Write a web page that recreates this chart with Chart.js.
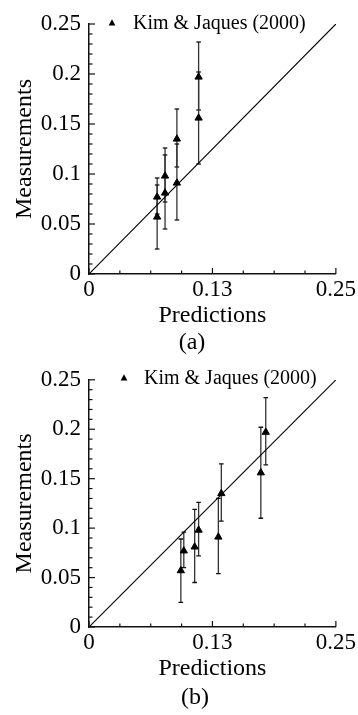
<!DOCTYPE html>
<html>
<head>
<meta charset="utf-8">
<script src="https://cdn.jsdelivr.net/npm/chart.js@4.4.0/dist/chart.umd.min.js"></script>
<style>
  html, body { margin: 0; padding: 0; background: #fff; }
  canvas { display: block; }
</style>
</head>
<body>
<canvas id="chartA" width="358" height="358"></canvas>
<canvas id="chartB" width="358" height="357"></canvas>
<script>
// Kim & Jaques (2000): measured values with error bars, against two sets of predictions
const seriesLabel = 'Kim & Jaques (2000)';
const measurements = [0.057, 0.077, 0.081, 0.098, 0.091, 0.135, 0.156, 0.197];
const errorLow     = [0.025, 0.060, 0.045, 0.072, 0.054, 0.107, 0.110, 0.164];
const errorHigh    = [0.089, 0.096, 0.119, 0.126, 0.130, 0.165, 0.202, 0.232];
const predictionsA = [0.069, 0.069, 0.077, 0.077, 0.089, 0.089, 0.111, 0.111];
const predictionsB = [0.093, 0.096, 0.107, 0.111, 0.131, 0.134, 0.174, 0.179];

// y = x reference line
const diagonalX = [0, 0.25];
const diagonalY = [0, 0.25];

// axis ticks
const xTickValues = [0, 0.03125, 0.0625, 0.09375, 0.125, 0.15625, 0.1875, 0.21875, 0.25];
const xMajorTicks = [0, 0.125, 0.25];
const xTickLabels = ['0', '0.13', '0.25'];
const yMajorTicks = [0, 0.05, 0.1, 0.15, 0.2, 0.25];
const yTickLabels = ['0', '0.05', '0.1', '0.15', '0.2', '0.25'];

Chart.defaults.font.family = "'Liberation Serif', 'Times New Roman', serif";
Chart.defaults.color = '#000';

function labelFor(value, majors, labels) {
    const i = majors.findIndex(m => Math.abs(m - value) < 1e-9);
    return i >= 0 ? labels[i] : '';
}

// tick marks point into the plot, long on labelled ticks
const inwardTicks = {
    id: 'inwardTicks',
    afterDraw(chart) {
        const { ctx, chartArea, scales } = chart;
        ctx.save();
        ctx.strokeStyle = '#111';
        ctx.lineWidth = 1.2;
        ['x', 'y'].forEach(id => {
            const scale = scales[id];
            scale.ticks.forEach(t => {
                const len = t.label !== '' ? 6 : 3.5;
                const p = scale.getPixelForValue(t.value);
                ctx.beginPath();
                if (id === 'x') {
                    ctx.moveTo(p, chartArea.bottom);
                    ctx.lineTo(p, chartArea.bottom - len);
                } else {
                    ctx.moveTo(chartArea.left, p);
                    ctx.lineTo(chartArea.left + len, p);
                }
                ctx.stroke();
            });
        });
        ctx.restore();
    }
};

// legend entry inside the plot and the (a)/(b) caption
const panelText = {
    id: 'panelText',
    afterDraw(chart, args, opts) {
        const ctx = chart.ctx;
        ctx.save();
        ctx.fillStyle = '#000';
        const [mx, my] = opts.marker;
        ctx.beginPath();
        ctx.moveTo(mx, my - 3.8);
        ctx.lineTo(mx + 3.4, my + 2.6);
        ctx.lineTo(mx - 3.4, my + 2.6);
        ctx.closePath();
        ctx.fill();
        ctx.font = "20px 'Liberation Serif'";
        ctx.textBaseline = 'middle';
        ctx.textAlign = 'left';
        ctx.fillText(seriesLabel, opts.text[0], opts.text[1]);
        ctx.font = "24px 'Liberation Serif'";
        ctx.textAlign = 'center';
        ctx.fillText(opts.caption, opts.captionPos[0], opts.captionPos[1]);
        ctx.restore();
    }
};

function makeChart(id, predictions, cfg) {
    const points = predictions.map((p, i) => ({ x: p, y: measurements[i] }));

    const errorBars = predictions.map((p, i) => ({
        data: [{ x: p, y: errorLow[i] }, { x: p, y: errorHigh[i] }],
        showLine: true,
        borderColor: '#333',
        borderWidth: 1.3,
        pointStyle: 'line',
        pointRadius: 2.3,
        pointBorderColor: '#111',
        pointBorderWidth: 1.3
    }));

    const ctx = document.getElementById(id).getContext('2d');
    return new Chart(ctx, {
        type: 'scatter',
        data: {
            datasets: [
                {
                    label: seriesLabel,
                    data: points,
                    pointStyle: 'triangle',
                    pointRadius: 4.2,
                    backgroundColor: '#000',
                    borderColor: '#000',
                    borderWidth: 1
                },
                {
                    data: diagonalX.map((x, i) => ({ x: x, y: diagonalY[i] })),
                    showLine: true,
                    borderColor: '#000',
                    borderWidth: 1.1,
                    pointRadius: 0
                },
                ...errorBars
            ]
        },
        options: {
            responsive: false,
            animation: false,
            events: [],
            layout: { padding: cfg.padding },
            plugins: {
                legend: { display: false },
                tooltip: { enabled: false },
                panelText: {
                    marker: cfg.marker,
                    text: cfg.text,
                    caption: cfg.caption,
                    captionPos: cfg.captionPos
                }
            },
            scales: {
                x: {
                    min: 0,
                    max: 0.25,
                    afterBuildTicks: scale => {
                        scale.ticks = xTickValues.map(v => ({ value: v }));
                    },
                    afterFit: scale => { scale.height = cfg.xHeight; },
                    grid: { display: false, drawTicks: false },
                    border: { display: true, color: '#111', width: 1.5 },
                    ticks: {
                        autoSkip: false,
                        maxRotation: 0,
                        padding: 2,
                        font: { size: 23 },
                        callback: v => labelFor(v, xMajorTicks, xTickLabels)
                    },
                    title: {
                        display: true,
                        text: 'Predictions',
                        font: { size: 24 },
                        padding: { top: 0, bottom: 2 }
                    }
                },
                y: {
                    min: 0,
                    max: 0.25,
                    afterFit: scale => { scale.width = 89; },
                    grid: { display: false, drawTicks: false },
                    border: { display: true, color: '#111', width: 1.5 },
                    ticks: {
                        stepSize: 0.01,
                        autoSkip: false,
                        padding: 8,
                        font: { size: 23 },
                        callback: v => labelFor(v, yMajorTicks, yTickLabels)
                    },
                    title: {
                        display: true,
                        text: 'Measurements',
                        font: { size: 24 },
                        padding: { top: 10, bottom: 0 }
                    }
                }
            }
        },
        plugins: [inwardTicks, panelText]
    });
}

makeChart('chartA', predictionsA, {
    padding: { left: 0, top: 24, right: 20, bottom: 26 },
    xHeight: 58,
    marker: [112, 23],
    text: [133, 24],
    caption: '(a)',
    captionPos: [192, 343]
});

makeChart('chartB', predictionsB, {
    padding: { left: 0, top: 20, right: 20, bottom: 30 },
    xHeight: 58,
    marker: [124, 20],
    text: [144, 21],
    caption: '(b)',
    captionPos: [195, 340]
});
</script>
</body>
</html>
